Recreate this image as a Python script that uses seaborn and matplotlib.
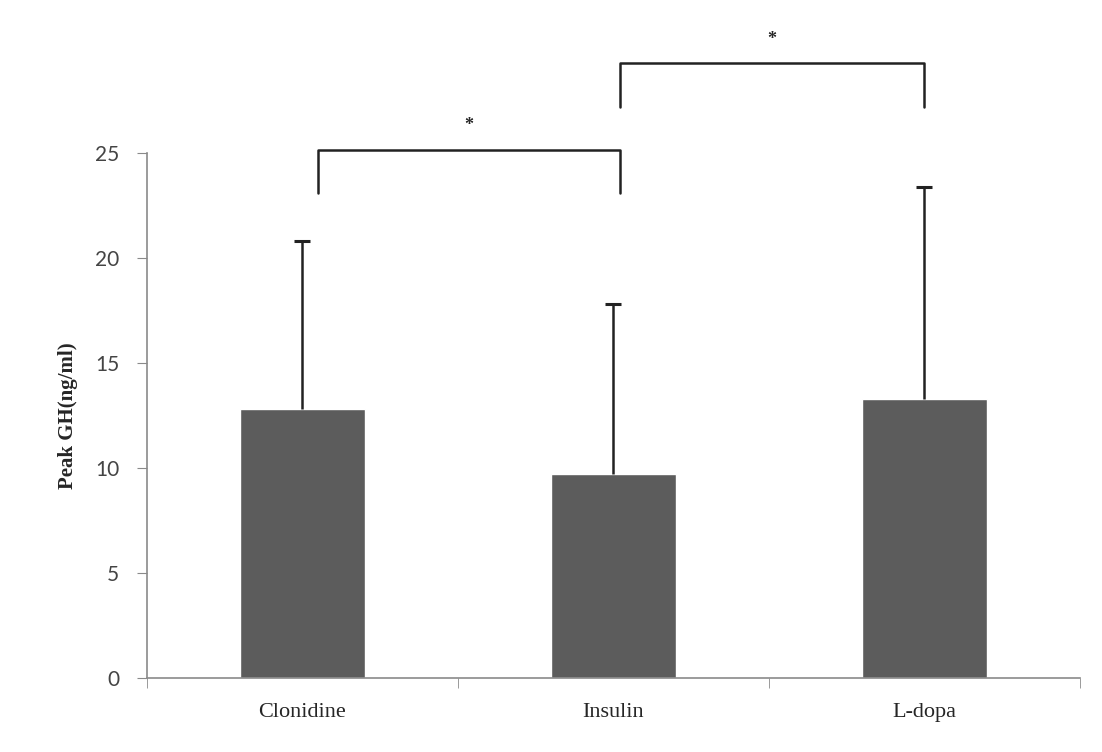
import pandas as pd
import matplotlib
matplotlib.use("Agg")
import matplotlib.pyplot as plt
import seaborn as sns

# -------------------------
# Data
# -------------------------
tests = ["Clonidine", "Insulin", "L-dopa"]
peak_gh = [12.8, 9.7, 13.3]
peak_gh_sd = [8.0, 8.1, 10.1]

# significance brackets: (from, to, leg bottom, top, star y)
brackets = [
    (0.05, 1.02, 23.1, 25.15, 26.3),
    (1.02, 2.0, 27.2, 29.3, 30.4),
]

df = pd.DataFrame({"test": tests, "peak": peak_gh, "sd": peak_gh_sd})
df["top"] = df["peak"] + df["sd"]

# -------------------------
# Plot
# -------------------------
sns.set_style("white")
fig = plt.figure(figsize=(11.02, 7.52), dpi=100)
ax = fig.add_axes([0.1334, 0.0984, 0.8466, 0.6981])

sns.barplot(data=df, x="test", y="peak", color="#5c5c5c", width=0.4,
            saturation=1, ax=ax)

# upper error bars only (no cap at the bar top)
xs = range(len(tests))
ax.vlines(xs, df["peak"], df["top"], color="#222222", lw=1.8)
ax.plot(xs, df["top"], ls="none", marker="_", ms=11, mew=2.2, color="#222222")

for x0, x1, lo, hi, sy in brackets:
    ax.plot([x0, x0, x1, x1], [lo, hi, hi, lo], color="#222222", lw=1.8,
            clip_on=False)
    ax.text((x0 + x1) / 2, sy, "*", ha="center", va="center", fontsize=13,
            fontweight="bold", family="Liberation Serif", clip_on=False)

ax.set_xlim(-0.5, 2.5)
ax.set_ylim(0, 25)
ax.set_yticks([0, 5, 10, 15, 20, 25])
ax.set_xlabel("")
ax.set_ylabel("Peak GH(ng/ml)", family="Liberation Serif", fontweight="bold",
              fontsize=15, labelpad=12)

ax.set_xticks([-0.5, 0.5, 1.5, 2.5], minor=True)
ax.tick_params(axis="x", which="major", length=0, pad=18, labelsize=16)
ax.tick_params(axis="x", which="minor", length=7, color="#8a8a8a",
               direction="out", bottom=True)
ax.tick_params(axis="y", length=7, color="#8a8a8a", direction="out", left=True,
               pad=13, labelsize=15, labelcolor="#444444")
for lab in ax.get_xticklabels():
    lab.set_family("Liberation Serif")
for lab in ax.get_yticklabels():
    lab.set_family("Lato")

for side in ["top", "right"]:
    ax.spines[side].set_visible(False)
for side in ["left", "bottom"]:
    ax.spines[side].set_color("#8a8a8a")
    ax.spines[side].set_linewidth(1.2)

fig.savefig("out.png", dpi=100)
plt.close(fig)
